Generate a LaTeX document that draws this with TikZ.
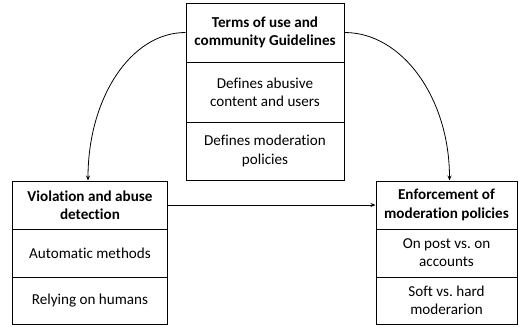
\documentclass[tikz,border=0pt]{standalone}
\usepackage{fontspec}
\setmainfont{Carlito}[Ligatures=NoCommon]
\usetikzlibrary{arrows.meta}
\frenchspacing
\begin{document}
\begin{tikzpicture}[x=1bp,y=-1bp,
  cell/.style={draw, line width=1bp, inner sep=0pt, align=center, font=\fontsize{15.2}{18.3}\selectfont},
  hdr/.style={cell, font=\fontsize{15.2}{18.3}\selectfont\bfseries},
  conn/.style={line width=0.8bp, -{Stealth[length=5bp,width=4bp]}}]
\useasboundingbox (0,0) rectangle (519,326);
% top box
\node[hdr, minimum width=158bp, minimum height=59bp] (t1) at (265,32.5) {Terms of use and\\community Guidelines};
\node[cell, minimum width=158bp, minimum height=60bp] (t2) at (265,92) {Defines abusive\\content and users};
\node[cell, minimum width=158bp, minimum height=58bp] (t3) at (265,151) {Defines moderation\\policies};
% left box
\node[hdr, minimum width=154bp, minimum height=48bp] (l1) at (90,205) {Violation and abuse\\detection};
\node[cell, minimum width=154bp, minimum height=48bp] (l2) at (90,253) {Automatic methods};
\node[cell, minimum width=154bp, minimum height=47bp] (l3) at (90,300.5) {Relying on humans};
% right box
\node[hdr, minimum width=141bp, minimum height=48bp] (r1) at (446.5,205) {Enforcement of\\moderation policies};
\node[cell, minimum width=141bp, minimum height=48bp] (r2) at (446.5,253) {On post vs.\ on\\accounts};
\node[cell, minimum width=141bp, minimum height=47bp] (r3) at (446.5,300.5) {Soft vs.\ hard\\moderarion};
% connectors
\draw[conn] (t1.west) .. controls +(-55,0) and +(0,-82) .. ([xshift=-2bp]l1.north);
\draw[conn] (t1.east) .. controls +(58,0) and +(0,-82) .. ([xshift=3bp]r1.north);
\draw[conn] (l1.east) -- (r1.west);
\end{tikzpicture}
\end{document}
